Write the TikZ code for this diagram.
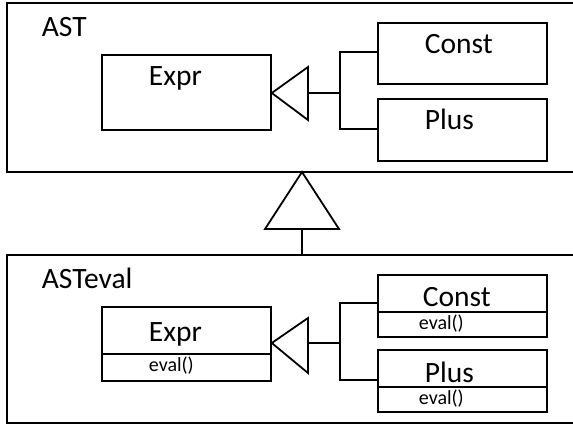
\documentclass[tikz,border=0pt]{standalone}
\usepackage{fontspec}
\setmainfont{Carlito}
\begin{document}
\begin{tikzpicture}[x=1pt,y=-1pt,
  line width=1.8pt,
  frame/.style={draw, line width=1.8pt},
  classbox/.style={draw, line width=1.8pt, rectangle, inner sep=0pt, anchor=north west},
  bigtext/.style={font=\fontsize{29.5}{29.5}\selectfont, anchor=base west, inner sep=0pt},
  smalltext/.style={font=\fontsize{20}{20}\selectfont, anchor=base west, inner sep=0pt},
  inherit/.style={draw, line width=1.8pt, fill=white}
]
\useasboundingbox (0,0) rectangle (573,425);

% ---------- package AST ----------
\draw[frame] (590,3) -- (7,3) -- (7,172) -- (590,172);
\node[bigtext] (astlbl) at (41,37) {AST};

\node[classbox, minimum width=169pt, minimum height=75pt] (expr1) at (101,54) {};
\node[bigtext] at (148,86) {Expr};
\node[classbox, minimum width=169pt, minimum height=61pt] (const1) at (377,22) {};
\node[bigtext] at (424,54) {Const};
\node[classbox, minimum width=169pt, minimum height=62pt] (plus1) at (377,98) {};
\node[bigtext] at (424,130) {Plus};

% generalisation arrow Const/Plus -> Expr
\coordinate (tip1) at (expr1.east |- 0,93);
\coordinate (tb1a) at (308,67);
\coordinate (tb1b) at (308,120);
\coordinate (tbm1) at (308,93);
\coordinate (j1) at (340,93);
\draw[inherit] (tip1) -- (tb1a) -- (tb1b) -- cycle;
\draw (tbm1) -- (j1);
\draw (const1.west |- 0,52) -| (j1);
\draw (plus1.west |- 0,129) -| (j1);

% ---------- package ASTeval ----------
\draw[frame] (590,255) -- (7,255) -- (7,423) -- (590,423);
\node[bigtext] (evallbl) at (41,288) {ASTeval};

\node[classbox, minimum width=169pt, minimum height=74pt] (expr2) at (101,306) {};
\draw (expr2.west |- 0,354) -- (expr2.east |- 0,354);
\node[bigtext] at (148,341) {Expr};
\node[smalltext] at (148,371) {eval()};

\node[classbox, minimum width=169pt, minimum height=62pt] (const2) at (377,274) {};
\draw (const2.west |- 0,312) -- (const2.east |- 0,312);
\node[bigtext] at (422,306) {Const};
\node[smalltext] at (418,329) {eval()};

\node[classbox, minimum width=169pt, minimum height=62pt] (plus2) at (377,349) {};
\draw (plus2.west |- 0,387) -- (plus2.east |- 0,387);
\node[bigtext] at (424,382) {Plus};
\node[smalltext] at (418,404) {eval()};

\coordinate (tip2) at (expr2.east |- 0,343);
\coordinate (tb2a) at (308,318);
\coordinate (tb2b) at (308,373);
\coordinate (tbm2) at (308,343);
\coordinate (j2) at (340,343);
\draw[inherit] (tip2) -- (tb2a) -- (tb2b) -- cycle;
\draw (tbm2) -- (j2);
\draw (const2.west |- 0,303) -| (j2);
\draw (plus2.west |- 0,380) -| (j2);

% ---------- ASTeval extends AST ----------
\coordinate (ptip) at (302,172);
\coordinate (pba) at (265,229);
\coordinate (pbb) at (339,229);
\coordinate (pbm) at (302,229);
\coordinate (pfoot) at (302,255);
\draw[inherit] (ptip) -- (pba) -- (pbb) -- cycle;
\draw (pbm) -- (pfoot);
\end{tikzpicture}
\end{document}
